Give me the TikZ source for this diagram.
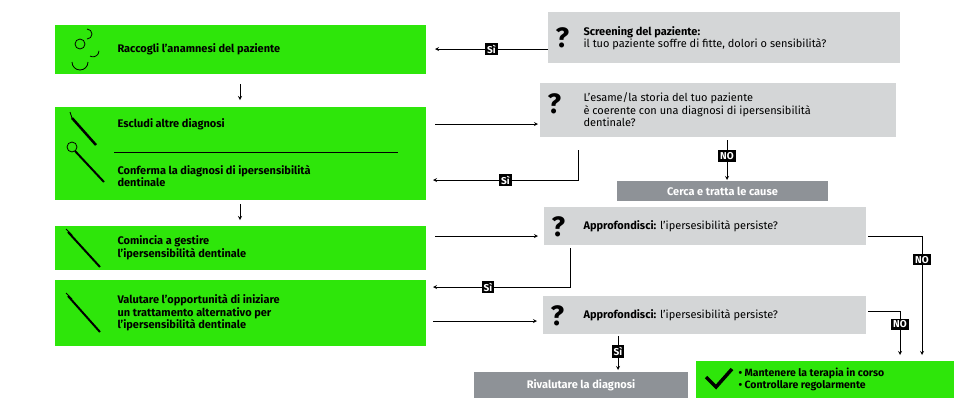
\documentclass[tikz,border=0pt]{standalone}
\usepackage{fontspec}
\setmainfont{Fira Sans}
\definecolor{grn}{HTML}{2EE60A}
\definecolor{qgray}{HTML}{D4D6D7}
\definecolor{dgray}{HTML}{8E9297}
\tikzset{
  stepbox/.style={fill=grn, inner sep=0pt},
  qbox/.style={fill=qgray, inner sep=0pt},
  gbox/.style={fill=dgray, inner sep=0pt},
  tag/.style={fill=black, text=white, font=\bfseries\fontsize{10}{11}\selectfont, inner sep=2pt},
  arr/.style={->, >=stealth, thick},
  txt/.style={anchor=west, align=left, font=\bfseries\fontsize{11}{12.5}\selectfont},
  qtxt/.style={anchor=west, align=left, font=\fontsize{11}{12.5}\selectfont},
  qm/.style={anchor=west, font=\bfseries\fontsize{28}{28}\selectfont}
}
\begin{document}
\begin{tikzpicture}[x=1pt,y=-1pt]
  \useasboundingbox (0,0) rectangle (970,416);
  % steps
  \fill[grn] (55,25) rectangle (426,74);
  \fill[grn] (55,107) rectangle (426,200);
  \fill[grn] (55,226) rectangle (426,270);
  \fill[grn] (55,280) rectangle (426,346);
  \coordinate (B1) at (426,49);
  \coordinate (B2) at (426,124);
  \coordinate (B3) at (426,236);
  \coordinate (B4) at (426,321);
  \node[txt] at (114,49) {Raccogli l'anamnesi del paziente};
  \node[txt] at (114,124) {Escludi altre diagnosi};
  \draw[thick] (114,152) -- (398,152);
  \node[txt] at (114,176) {Conferma la diagnosi di ipersensibilità\\dentinale};
  \node[txt] at (114,248) {Comincia a gestire\\l'ipersensibilità dentinale};
  \node[txt] at (114,313) {Valutare l'opportunità di iniziare\\un trattamento alternativo per\\l'ipersensibilità dentinale};
  % icons
  \draw[thick] (80,44) circle (5);
  \draw[thick] (72,62) arc (180:0:8);
  \draw[thick] (87,39) arc (90:-90:5) (90,56) arc (120:0:6);
  \draw[line width=2.5pt] (72,118) -- (96,145);
  \draw[thick] (72,118) -- (70,112);
  \draw[thick] (72,147) circle (5);
  \draw[line width=2pt] (75,151) -- (104,182);
  \draw[line width=2pt] (68,232) -- (100,267);
  \draw[line width=2pt] (68,296) -- (100,332);
  \draw[thick] (66,293) -- (72,299);
  \draw[thick] (66,229) -- (72,235);
  % arrows between steps
  \draw[arr] (240,84) -- (240,100);
  \draw[arr] (240,204) -- (240,220);
  % questions
  \fill[qgray] (548,12) rectangle (900,63);
  \fill[qgray] (540,83) rectangle (896,137);
  \fill[qgray] (544,207) rectangle (866,245);
  \fill[qgray] (543,296) rectangle (866,334);
  \node[qm] at (552,38) {?};
  \node[qm] at (544,104) {?};
  \node[qm] at (548,227) {?};
  \node[qm] at (547,316) {?};
  \node[qtxt] at (580,38) {\textbf{Screening del paziente:}\\il tuo paziente soffre di fitte, dolori o sensibilità?};
  \node[qtxt] at (580,110) {L'esame/la storia del tuo paziente\\è coerente con una diagnosi di ipersensibilità\\dentinale?};
  \node[qtxt] at (580,226) {\textbf{Approfondisci:} l'ipersesibilità persiste?};
  \node[qtxt] at (580,315) {\textbf{Approfondisci:} l'ipersesibilità persiste?};
  % outcomes
  \node[gbox, minimum width=211pt, minimum height=20pt, text=white, font=\bfseries\fontsize{11}{12}\selectfont] (cerca) at (722.5,191) {Cerca e tratta le cause};
  \node[gbox, minimum width=214pt, minimum height=26pt, text=white, font=\bfseries\fontsize{11}{12}\selectfont] (rival) at (581,385) {Rivalutare la diagnosi};
  \node[stepbox, minimum width=258pt, minimum height=37pt] (done) at (825,379.5) {};
  \draw[line width=3.5pt] (706,377) -- (716,387) -- (732,369);
  \node[txt, font=\bfseries\fontsize{10.5}{12}\selectfont] at (735,379) {• Mantenere la terapia in corso\\• Controllare regolarmente};
  % connectors
  \draw[arr] (548,49) -- (435,49) node[tag, pos=0.5] {Sì};
  \draw[arr] (435,124) -- (538,124);
  \draw[arr] (578,150) |- (433,180) node[tag, pos=0.75] {Sì};
  \draw[arr] (727,140) -- (727,180) node[tag, pos=0.4] {NO};
  \draw[arr] (435,236) -- (538,236);
  \draw[arr] (570,248) |- (433,287) node[tag, pos=0.8] {Sì};
  \draw[arr] (433,321) -- (537,321);
  \draw[arr] (618,336) -- (618,370) node[tag, pos=0.45] {Sì};
  \draw[arr] (868,236) -| (922,355) node[tag, pos=0.6] {NO};
  \draw[arr] (868,311) -| (900,355) node[tag, pos=0.65] {NO};
\end{tikzpicture}
\end{document}
